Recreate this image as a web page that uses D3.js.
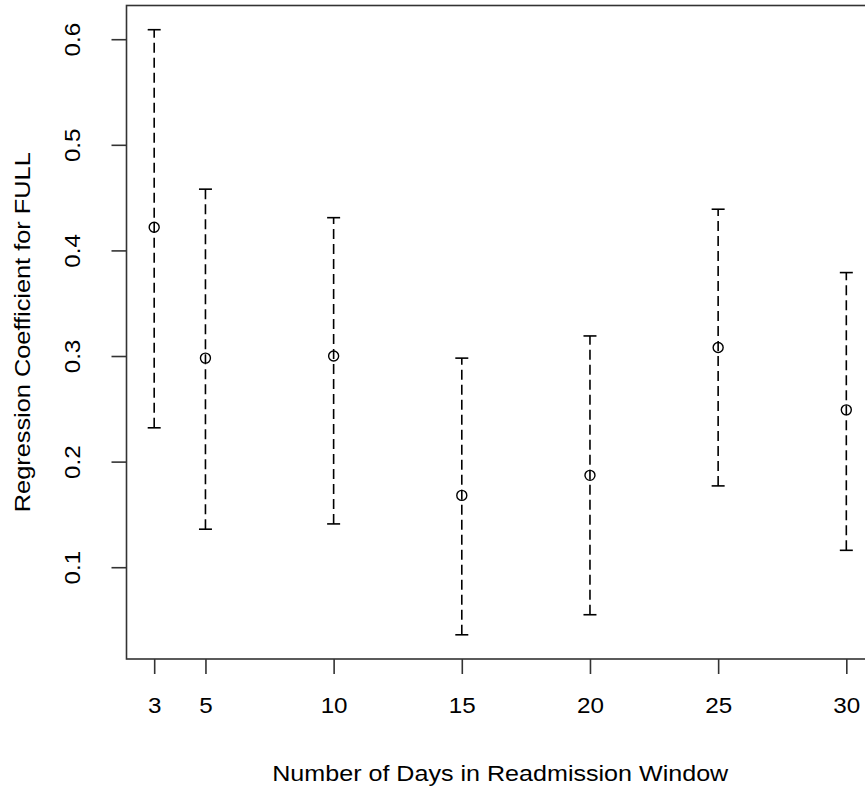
<!DOCTYPE html>
<html>
<head>
<meta charset="utf-8">
<script src="https://cdn.jsdelivr.net/npm/d3@7"></script>
<style>
  html, body { margin: 0; padding: 0; background: #fff; }
  svg { display: block; }
  text { font-family: "Liberation Sans", Arial, sans-serif; fill: #000; }
</style>
</head>
<body>
<svg id="chart" width="865" height="788"></svg>
<script>
const days = [3, 5, 10, 15, 20, 25, 30];
const coef = [0.422, 0.298, 0.300, 0.168, 0.187, 0.308, 0.249];
const lower = [0.232, 0.136, 0.141, 0.036, 0.055, 0.177, 0.116];
const upper = [0.609, 0.458, 0.431, 0.298, 0.319, 0.439, 0.379];
const xTicks = [3, 5, 10, 15, 20, 25, 30];
const yTicks = [0.1, 0.2, 0.3, 0.4, 0.5, 0.6];
const xTitle = "Number of Days in Readmission Window";
const yTitle = "Regression Coefficient for FULL";

(function () {
const svg = d3.select("#chart");
const mLeft = 126.5, mTop = 5.5, mBottom = 659, mRight = 874;
const tickFont = 22, titleFont = 22;

const xmin = d3.min(days), xmax = d3.max(days);
const xpad = (xmax - xmin) * 0.04;
const ymin = d3.min(lower), ymax = d3.max(upper);
const ypad = (ymax - ymin) * 0.04;

const x = d3.scaleLinear().domain([xmin - xpad, xmax + xpad]).range([mLeft, mRight]);
const y = d3.scaleLinear().domain([ymin - ypad, ymax + ypad]).range([mBottom, mTop]);

const data = days.map((d, i) => ({d, c: coef[i], lo: lower[i], hi: upper[i]}));

const g = svg.append("g");
g.selectAll("line.err").data(data).enter().append("line")
  .attr("x1", d => x(d.d)).attr("x2", d => x(d.d))
  .attr("y1", d => y(d.lo)).attr("y2", d => y(d.hi))
  .attr("stroke", "#000").attr("stroke-width", 1.6)
  .attr("stroke-dasharray", "10,5");
g.selectAll("line.capHi").data(data).enter().append("line")
  .attr("x1", d => x(d.d) - 6.5).attr("x2", d => x(d.d) + 6.5)
  .attr("y1", d => y(d.hi)).attr("y2", d => y(d.hi))
  .attr("stroke", "#000").attr("stroke-width", 1.6);
g.selectAll("line.capLo").data(data).enter().append("line")
  .attr("x1", d => x(d.d) - 6.5).attr("x2", d => x(d.d) + 6.5)
  .attr("y1", d => y(d.lo)).attr("y2", d => y(d.lo))
  .attr("stroke", "#000").attr("stroke-width", 1.6);
g.selectAll("circle").data(data).enter().append("circle")
  .attr("cx", d => x(d.d)).attr("cy", d => y(d.c)).attr("r", 5)
  .attr("fill", "none").attr("stroke", "#000").attr("stroke-width", 1.4);

svg.append("rect").attr("x", mLeft).attr("y", mTop)
  .attr("width", mRight - mLeft).attr("height", mBottom - mTop)
  .attr("fill", "none").attr("stroke", "#333").attr("stroke-width", 1.6);

const xAxis = svg.append("g").attr("transform", `translate(0,${mBottom})`)
  .call(d3.axisBottom(x).tickValues(xTicks).tickSize(15).tickPadding(23).tickFormat(d3.format("d")));
xAxis.select(".domain").remove();
xAxis.selectAll(".tick line").attr("stroke", "#333").attr("stroke-width", 1.6);
xAxis.selectAll(".tick text").attr("font-size", tickFont).attr("fill", "#000")
  .style("font-family", "Liberation Sans, Arial, sans-serif")
  .attr("transform", "scale(1.1,1)");

const yAxis = svg.append("g").attr("transform", `translate(${mLeft},0)`)
  .call(d3.axisLeft(y).tickValues(yTicks).tickSize(15).tickFormat(d3.format(".1f")));
yAxis.select(".domain").remove();
yAxis.selectAll(".tick line").attr("stroke", "#333").attr("stroke-width", 1.6);
yAxis.selectAll(".tick text")
  .attr("font-size", tickFont).attr("fill", "#000")
  .style("font-family", "Liberation Sans, Arial, sans-serif")
  .attr("x", null).attr("dy", null)
  .attr("text-anchor", "middle")
  .attr("transform", "translate(-54.5,0) rotate(-90) scale(1.1,1)")
  .attr("dominant-baseline", "central");

svg.append("text").attr("x", (mLeft + mRight) / 2).attr("y", 781)
  .attr("text-anchor", "middle").attr("font-size", titleFont)
  .attr("textLength", 456).attr("lengthAdjust", "spacingAndGlyphs").text(xTitle);
svg.append("text").attr("transform", `translate(29.5,${(mTop + mBottom) / 2}) rotate(-90)`)
  .attr("text-anchor", "middle").attr("font-size", titleFont)
  .attr("textLength", 360).attr("lengthAdjust", "spacingAndGlyphs").text(yTitle);
})();
</script>
</body>
</html>
